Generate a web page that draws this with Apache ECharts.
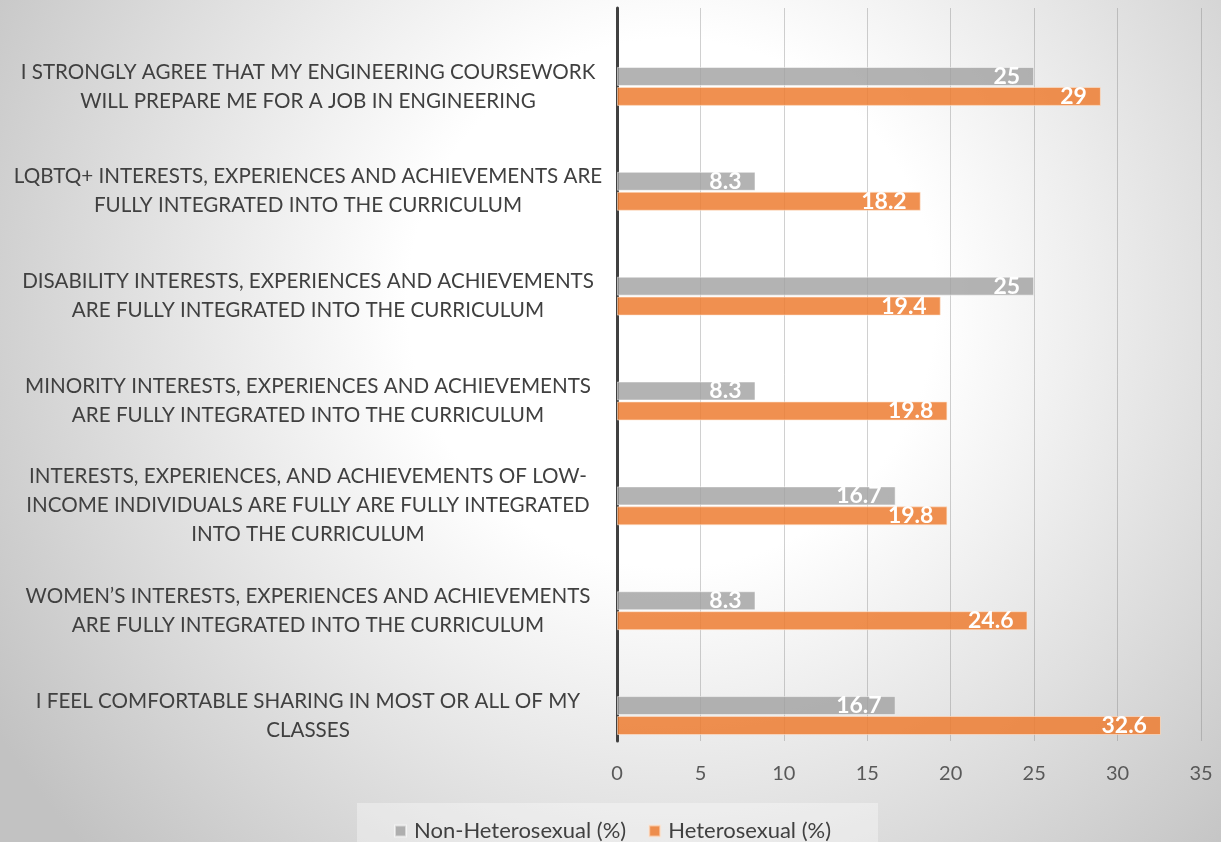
<!DOCTYPE html>
<html>
<head>
<meta charset="utf-8">
<script src="https://cdn.jsdelivr.net/npm/echarts@6/dist/echarts.min.js"></script>
<style>html,body{margin:0;padding:0;}#c{width:1221px;height:842px;}</style>
</head>
<body>
<div id="c"></div>
<script>
var categories = [
  "I STRONGLY AGREE THAT MY ENGINEERING COURSEWORK\nWILL PREPARE ME FOR A JOB IN ENGINEERING",
  "LQBTQ+ INTERESTS, EXPERIENCES AND ACHIEVEMENTS ARE\nFULLY INTEGRATED INTO THE CURRICULUM",
  "DISABILITY INTERESTS, EXPERIENCES AND ACHIEVEMENTS\nARE FULLY INTEGRATED INTO THE CURRICULUM",
  "MINORITY INTERESTS, EXPERIENCES AND ACHIEVEMENTS\nARE FULLY INTEGRATED INTO THE CURRICULUM",
  "INTERESTS, EXPERIENCES, AND ACHIEVEMENTS OF LOW-\nINCOME INDIVIDUALS ARE FULLY ARE FULLY INTEGRATED\nINTO THE CURRICULUM",
  "WOMEN\u2019S INTERESTS, EXPERIENCES AND ACHIEVEMENTS\nARE FULLY INTEGRATED INTO THE CURRICULUM",
  "I FEEL COMFORTABLE SHARING IN MOST OR ALL OF MY\nCLASSES"
];
var nonHetero = [25, 8.3, 25, 8.3, 16.7, 8.3, 16.7];
var hetero = [29, 18.2, 19.4, 19.8, 19.8, 24.6, 32.6];
var seriesNames = ["Non-Heterosexual (%)", "Heterosexual (%)"];
var xMin = 0, xMax = 35, xStep = 5;

var FONT = "Lato";
var chart = echarts.init(document.getElementById('c'));
var labelStyle = {
  show: true, position: 'insideRight', distance: 14,
  color: '#ffffff', fontFamily: FONT, fontWeight: 'bold', fontSize: 23
};
chart.setOption({
  animation: false,
  graphic: [
    {type: 'rect', z: -100, silent: true, shape: {x: 0, y: 0, width: 1221, height: 842},
     style: {fill: new echarts.graphic.RadialGradient(0.55, 0.36, 0.95, [
       {offset: 0, color: '#ffffff'}, {offset: 0.33, color: '#ffffff'}, {offset: 1, color: '#c2c2c2'}
     ])}},
    {type: 'rect', z: -50, silent: true, shape: {x: 357, y: 803, width: 521, height: 39},
     style: {fill: 'rgba(255,255,255,0.35)'}}
  ],
  legend: {
    data: seriesNames, left: 389, top: 815, itemWidth: 11, itemHeight: 11, itemGap: 22,
    icon: 'rect',
    textStyle: {fontFamily: FONT, fontSize: 22, color: '#404040', padding: [0, 0, 0, 3]}
  },
  grid: [
    {left: 617, right: 20, top: 8, bottom: 101, containLabel: false},
    {left: 617, right: 20, top: 34, bottom: 74, containLabel: false}
  ],
  xAxis: [
    {gridIndex: 0, type: 'value', min: xMin, max: xMax, interval: xStep,
     axisLine: {show: false}, axisTick: {show: false},
     splitLine: {show: true, lineStyle: {color: 'rgba(120,120,120,0.35)', width: 1}},
     axisLabel: {margin: 23, color: '#595959', fontFamily: FONT, fontSize: 20}},
    {gridIndex: 1, type: 'value', min: xMin, max: xMax, interval: xStep, show: false}
  ],
  yAxis: [
    {gridIndex: 0, type: 'value', min: 0, max: 1,
     axisLine: {show: true, onZero: false, lineStyle: {color: '#404040', width: 3}},
     axisTick: {show: false}, axisLabel: {show: false}, splitLine: {show: false}},
    {gridIndex: 1, type: 'category', data: categories, inverse: true,
     axisLine: {show: false}, axisTick: {show: false}, splitLine: {show: false},
     axisLabel: {margin: 309, align: 'center', color: '#404040', fontFamily: FONT,
                 fontSize: 20.6, lineHeight: 29}}
  ],
  series: [
    {name: seriesNames[0], type: 'bar', xAxisIndex: 1, yAxisIndex: 1, data: nonHetero,
     barWidth: 19, barGap: '5%',
     itemStyle: {color: 'rgba(160,160,160,0.8)', borderColor: 'rgba(255,255,255,0.5)', borderWidth: 1},
     label: labelStyle},
    {name: seriesNames[1], type: 'bar', xAxisIndex: 1, yAxisIndex: 1, data: hetero,
     barWidth: 19, barGap: '5%',
     itemStyle: {color: 'rgba(237,125,49,0.85)', borderColor: 'rgba(255,230,210,0.6)', borderWidth: 1},
     label: labelStyle}
  ]
});
</script>
</body>
</html>
